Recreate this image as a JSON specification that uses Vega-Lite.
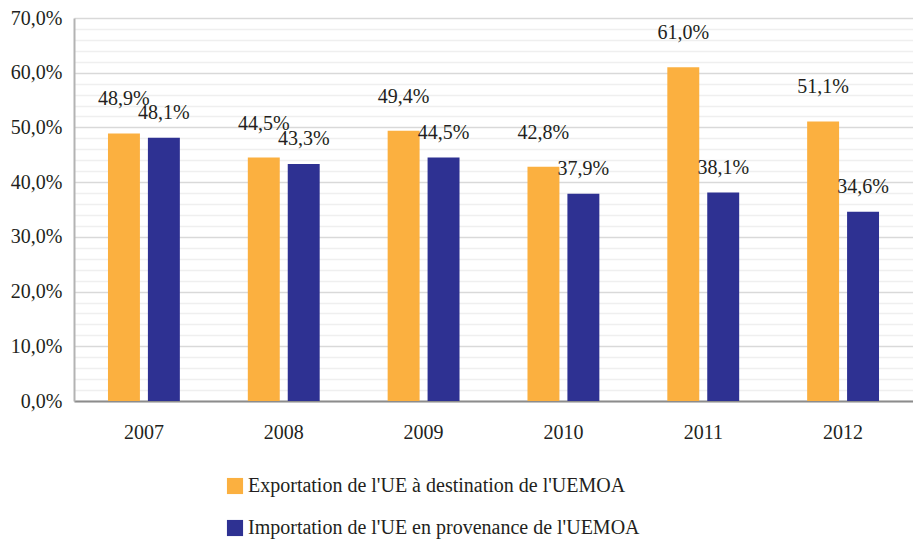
{
  "$schema": "https://vega.github.io/schema/vega-lite/v6.json",
  "autosize": {"type": "none"},
  "width": 839,
  "height": 383,
  "padding": {"left": 74, "top": 18, "right": 0, "bottom": 139},
  "background": "#ffffff",
  "config": {
    "locale": {"number": {"decimal": ",", "thousands": " ", "grouping": [3], "currency": ["", " €"]}},
    "font": "Liberation Serif",
    "axis": {"labelFont": "Liberation Serif"},
    "legend": {"labelFont": "Liberation Serif"},
    "text": {"font": "Liberation Serif"},
    "view": {"stroke": null}
  },
  "data": {
    "values": [
      {"year": "2007", "series": "Exportation de l'UE à destination de l'UEMOA", "value": 0.489},
      {"year": "2007", "series": "Importation de l'UE en provenance de l'UEMOA", "value": 0.481},
      {"year": "2008", "series": "Exportation de l'UE à destination de l'UEMOA", "value": 0.445},
      {"year": "2008", "series": "Importation de l'UE en provenance de l'UEMOA", "value": 0.433},
      {"year": "2009", "series": "Exportation de l'UE à destination de l'UEMOA", "value": 0.494},
      {"year": "2009", "series": "Importation de l'UE en provenance de l'UEMOA", "value": 0.445},
      {"year": "2010", "series": "Exportation de l'UE à destination de l'UEMOA", "value": 0.428},
      {"year": "2010", "series": "Importation de l'UE en provenance de l'UEMOA", "value": 0.379},
      {"year": "2011", "series": "Exportation de l'UE à destination de l'UEMOA", "value": 0.610},
      {"year": "2011", "series": "Importation de l'UE en provenance de l'UEMOA", "value": 0.381},
      {"year": "2012", "series": "Exportation de l'UE à destination de l'UEMOA", "value": 0.511},
      {"year": "2012", "series": "Importation de l'UE en provenance de l'UEMOA", "value": 0.346}
    ]
  },
  "encoding": {
    "x": {
      "field": "year", "type": "nominal",
      "scale": {"paddingInner": 0.486, "paddingOuter": 0.243},
      "axis": {
        "title": null, "labelAngle": 0, "labelFontSize": 20, "labelColor": "#231f20",
        "labelFont": "Liberation Serif",
        "labelPadding": 21, "ticks": false, "domainColor": "#8c8c8c", "domainWidth": 2
      }
    },
    "xOffset": {
      "field": "series", "type": "nominal",
      "scale": {"paddingInner": 0.2, "paddingOuter": 0}
    },
    "y": {
      "field": "value", "type": "quantitative",
      "scale": {"domain": [0, 0.7], "nice": false},
      "axis": {
        "title": null,
        "values": [0, 0.02, 0.04, 0.06, 0.08, 0.1, 0.12, 0.14, 0.16, 0.18, 0.2, 0.22, 0.24, 0.26, 0.28, 0.3, 0.32, 0.34, 0.36, 0.38, 0.4, 0.42, 0.44, 0.46, 0.48, 0.5, 0.52, 0.54, 0.56, 0.58, 0.6, 0.62, 0.64, 0.66, 0.68, 0.7],
        "format": ".1%",
        "labelExpr": "round(datum.value * 100) % 10 == 0 ? datum.label : ''",
        "labelFontSize": 20, "labelColor": "#231f20", "labelPadding": 12,
        "labelFont": "Liberation Serif",
        "ticks": false, "domainColor": "#b3b3b3", "domainWidth": 2,
        "grid": true, "gridWidth": 1.6,
        "gridColor": {"condition": {"test": "round(datum.value * 100) % 10 == 0", "value": "#d9d9d9"}, "value": "#efefef"}
      }
    }
  },
  "layer": [
    {
      "mark": {"type": "bar"},
      "encoding": {
        "color": {
          "field": "series", "type": "nominal",
          "scale": {"range": ["#fbb040", "#2e3192"]},
          "legend": {
            "title": null, "orient": "none", "legendX": 151, "legendY": 458,
            "direction": "vertical", "symbolType": "square", "symbolSize": 260,
            "symbolStrokeWidth": 0, "labelFontSize": 20, "labelColor": "#231f20",
            "labelFont": "Liberation Serif",
            "labelLimit": 700, "rowPadding": 22, "labelOffset": 3
          }
        }
      }
    },
    {
      "transform": [{"filter": "datum.series == \"Exportation de l'UE à destination de l'UEMOA\""}],
      "mark": {"type": "text", "baseline": "middle", "dy": -34, "fontSize": 20, "color": "#231f20", "font": "Liberation Serif"},
      "encoding": {"text": {"field": "value", "type": "quantitative", "format": ".1%"}}
    },
    {
      "transform": [{"filter": "datum.series == \"Importation de l'UE en provenance de l'UEMOA\""}],
      "mark": {"type": "text", "baseline": "middle", "dy": -25, "fontSize": 20, "color": "#231f20", "font": "Liberation Serif"},
      "encoding": {"text": {"field": "value", "type": "quantitative", "format": ".1%"}}
    }
  ]
}
